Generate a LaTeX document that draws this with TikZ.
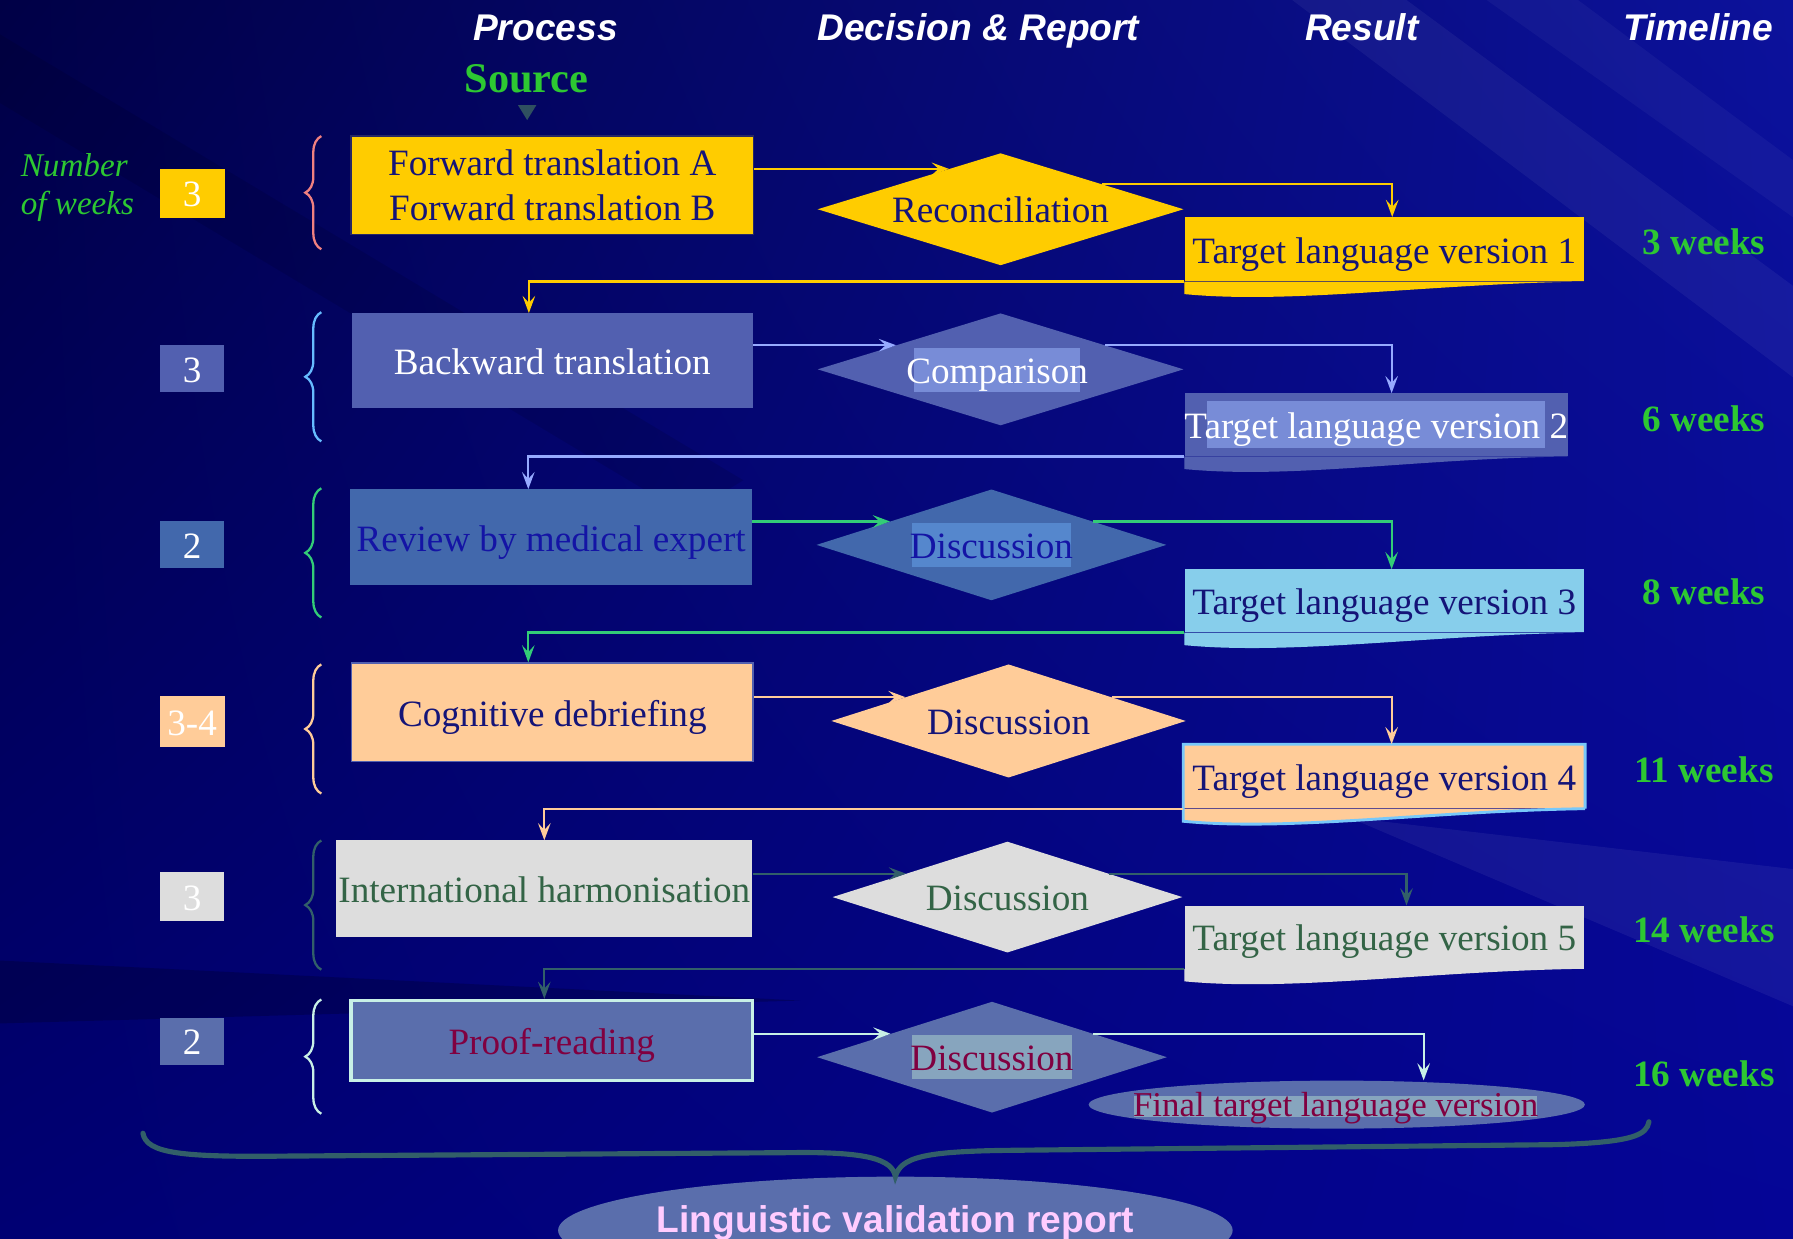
\documentclass[tikz,border=0pt]{standalone}
\usepackage{fontspec}
\setmainfont{Liberation Serif}
\newfontfamily\headfont{Liberation Sans}
\usetikzlibrary{shapes.geometric,arrows.meta,decorations.pathreplacing,calc,shadings}

\definecolor{cBgA}{RGB}{0,0,70}
\definecolor{cBgB}{RGB}{12,18,155}
\definecolor{cBgC}{RGB}{0,0,115}
\definecolor{cBgD}{RGB}{5,5,150}
\definecolor{cGold}{RGB}{255,204,0}
\definecolor{cNavy}{RGB}{20,20,120}
\definecolor{cSlate}{RGB}{82,96,176}
\definecolor{cSteel}{RGB}{66,104,172}
\definecolor{cPeach}{RGB}{255,204,153}
\definecolor{cGray}{RGB}{221,221,221}
\definecolor{cSky}{RGB}{135,206,235}
\definecolor{cSkyB}{RGB}{120,200,250}
\definecolor{cProof}{RGB}{90,110,172}
\definecolor{cFern}{RGB}{51,100,70}
\definecolor{cBlueTxt}{RGB}{20,20,165}
\definecolor{cMaroon}{RGB}{128,0,64}
\definecolor{cWeek}{RGB}{45,200,50}
\definecolor{cLav}{RGB}{150,170,255}
\definecolor{cMint}{RGB}{51,204,119}
\definecolor{cSlateDk}{RGB}{50,95,105}
\definecolor{cAqua}{RGB}{200,240,230}
\definecolor{cSalmon}{RGB}{240,128,128}
\definecolor{cBrace}{RGB}{102,187,255}
\definecolor{cHiA}{RGB}{120,140,215}
\definecolor{cHiB}{RGB}{85,135,205}
\definecolor{cHiC}{RGB}{135,165,190}
\definecolor{cPink}{RGB}{255,204,255}
\definecolor{cEdge}{RGB}{40,40,100}
\definecolor{cTri}{RGB}{47,80,96}

\newcommand\boxsize{\fontsize{32.5}{39}\selectfont}

\begin{document}
\begin{tikzpicture}
  [x=1pt,y=-1pt,
   txt/.style={inner sep=0pt,text height=24pt,text depth=0pt},
   colhead/.style={txt,text=white,font=\headfont\bfseries\itshape\boxsize},
   timetext/.style={txt,text=cWeek,font=\bfseries\boxsize},
   weekbox/.style={txt,text=white,font=\boxsize,minimum width=57,minimum height=43},
   proc/.style={rectangle,txt,font=\boxsize,minimum width=351,minimum height=84},
   choice/.style={diamond,aspect=3.3,txt,font=\boxsize,minimum width=306,minimum height=97},
   resbox/.style={rectangle,txt,font=\boxsize,minimum width=349,minimum height=55},
   hibox/.style={rectangle,txt,font=\boxsize,inner ysep=7.5pt},
   brc/.style={decorate,decoration={brace,amplitude=14pt},line width=2pt},
   arr/.style={-{Stealth[length=15pt,width=11pt,inset=6pt]},line width=2pt}]

  \useasboundingbox (0,0) rectangle (1568,1083);
  \shade[upper left=cBgA,upper right=cBgB,lower left=cBgC,lower right=cBgD] (0,0) rectangle (1568,1083);
  \fill[white,opacity=.05] (1130,0) -- (1230,0) -- (1568,250) -- (1568,330) -- cycle;
  \fill[white,opacity=.04] (1300,0) -- (1380,0) -- (1568,140) -- (1568,190) -- cycle;
  \fill[white,opacity=.06] (1180,715) -- (1568,760) -- (1568,880) -- cycle;
  \fill[black,opacity=.2] (0,840) -- (700,875) -- (0,895) -- cycle;
  \fill[black,opacity=.1] (0,30) -- (650,420) -- (600,450) -- (0,90) -- cycle;

  \node[colhead] (hproc) at (477,23) {Process};
  \node[colhead] (hdec) at (855.5,23) {Decision \& Report};
  \node[colhead] (hres) at (1191,23) {Result};
  \node[colhead] (htime) at (1485,23) {Timeline};
  \node[inner sep=0pt,text height=25pt,text depth=0pt,text=cWeek,font=\fontsize{37}{40}\selectfont\bfseries] (src) at (460.5,68) {Source};
  \fill[cTri] (453,92) -- (469,92) -- (461,105) -- cycle;
  \node[inner sep=0pt,anchor=west,align=left,text=cWeek,font=\fontsize{29}{33.5}\selectfont\itshape] (nweeks) at (18,164) {Number\\of weeks};

  \node[weekbox,fill=cGold] (w1) at (168,169) {3};
  \node[weekbox,fill=cSlate,minimum width=56,minimum height=41] (w2) at (168,322.5) {3};
  \node[weekbox,fill=cSteel,minimum width=56,minimum height=41] (w3) at (168,476.5) {2};
  \node[weekbox,fill=cPeach,minimum height=45] (w4) at (168,631) {3-4};
  \node[weekbox,fill=cGray,minimum width=56,minimum height=42] (w5) at (168,784) {3};
  \node[weekbox,fill=cProof,minimum width=56,minimum height=41] (w6) at (168,910.5) {2};

  \foreach \ya/\yb/\c in {119/218/cSalmon,273/386/cBrace,427/540/cMint,581/694/cPeach,735/848/cSlateDk,874/974/cAqua}
    \draw[brc,\c] (281,\yb) -- (281,\ya);

  \node[rectangle,fill=cGold,draw=cEdge,line width=1.5pt,minimum width=352,minimum height=86,font=\boxsize,align=center,text=cNavy] (p1) at (483,162) {Forward translation A\\Forward translation B};
  \node[proc,fill=cSlate,text=white,minimum height=83] (p2) at (483,315.5) {Backward translation};
  \node[proc,fill=cSteel,text=cBlueTxt] (p3) at (482,470) {Review by medical expert};
  \node[proc,fill=cPeach,draw=cSlate,line width=1.5pt,text=cNavy,minimum height=86] (p4) at (483,623) {Cognitive debriefing};
  \node[proc,fill=cGray,text=cFern,minimum width=364] (p5) at (476,777) {International harmonisation};
  \node[proc,fill=cProof,draw=cAqua,line width=3pt,text=cMaroon,minimum height=70] (p6) at (482.5,910) {Proof-reading};

  \node[choice,fill=cGold,text=cNavy,minimum width=320,minimum height=98] (d1) at (875,183) {Reconciliation};
  \node[choice,fill=cSlate,minimum width=320,minimum height=98] (d2) at (875,323) {};
  \node[hibox,fill=cHiA,text=white,inner xsep=-7pt] (d2t) at (872,323.5) {Comparison};
  \node[choice,fill=cSteel] (d3) at (867,476.5) {};
  \node[hibox,fill=cHiB,text=cBlueTxt,inner xsep=-2pt,inner ysep=7pt] (d3t) at (d3) {Discussion};
  \node[choice,fill=cPeach,text=cNavy,minimum width=310,minimum height=99] (d4) at (882,630.5) {Discussion};
  \node[choice,fill=cGray,text=cFern] (d5) at (881,784.5) {Discussion};
  \node[choice,fill=cProof] (d6) at (867.5,924.5) {};
  \node[hibox,fill=cHiC,text=cMaroon,inner xsep=-1pt] (d6t) at (d6) {Discussion};

  \node[resbox,fill=cGold,text=cNavy,minimum height=56] (r1) at (1210.5,218) {Target language version 1};
  \node[resbox,fill=cSlate,minimum width=335] (r2) at (1203.5,371.5) {};
  \node[hibox,fill=cHiA,text=white,inner xsep=-20pt,inner ysep=8.5pt] (r2t) at (r2) {Target language version 2};
  \node[resbox,fill=cSky,text=cNavy] (r3) at (1210.5,525.5) {Target language version 3};
  \node[resbox,fill=cPeach,text=cNavy,minimum width=351,minimum height=56] (r4) at (1210.5,679) {Target language version 4};
  \node[resbox,fill=cGray,text=cFern] (r5) at (1210.5,819.5) {Target language version 5};
  \foreach \r/\c in {r1/cGold,r2/cSlate,r3/cSky,r4/cPeach,r5/cGray}
    \fill[\c] (\r.south east) .. controls +(-135,2) and +(94,9) .. ($(\r.south west)+(0,11)$) -- (\r.south west) -- cycle;
  \draw[cSkyB,line width=2.5pt] (r4.south east) -- (r4.north east) -- (r4.north west) -- ($(r4.south west)+(0,11)$) .. controls +(94,9) and +(-135,2) .. (r4.south east);
  \node[ellipse,inner sep=0pt,fill=cProof,minimum width=434,minimum height=42] (fin) at (1169,966) {};
  \node[hibox,fill=cHiC,text=cMaroon,text height=18pt,inner ysep=0pt,inner xsep=-1pt,font=\fontsize{30.5}{36}\selectfont] (fint) at (1168,967.5) {Final target language version};

  \node[timetext] (t1) at (1490,211) {3 weeks};
  \node[timetext] (t2) at (1490,365) {6 weeks};
  \node[timetext] (t3) at (1490,517) {8 weeks};
  \node[timetext] (t4) at (1490,672) {11 weeks};
  \node[timetext] (t5) at (1490,812) {14 weeks};
  \node[timetext] (t6) at (1490,938) {16 weeks};

  \draw[arr,cGold] (p1.east |- d1.142) -- (d1.142);
  \draw[arr,cGold] (d1.14) -| ([xshift=7pt]r1.north);
  \draw[arr,cGold] (r1.south west) -| ([xshift=-20.5pt]p2.north);
  \draw[arr,cLav] (p2.east |- d2.167) -- (d2.167);
  \draw[arr,cLav] (d2.13) -| ([xshift=13.5pt]r2.north);
  \draw[arr,cLav] (r2.south west) -| ([xshift=-20pt]p3.north);
  \draw[arr,cMint] (p3.east |- d3.167) -- (d3.167);
  \draw[arr,cMint] (d3.13) -| ([xshift=6.5pt]r3.north);
  \draw[arr,cMint] (r3.south west) -| ([xshift=-21pt]p4.north);
  \draw[arr,cPeach] (p4.east |- d4.167) -- (d4.167);
  \draw[arr,cPeach] (d4.13) -| ([xshift=6.5pt]r4.north);
  \draw[arr,cPeach] (r4.south west) -| (p5.north);
  \draw[arr,cSlateDk] (p5.east |- d5.167) -- (d5.167);
  \draw[arr,cSlateDk] (d5.13) -| ([xshift=19.5pt]r5.north);
  \draw[arr,cSlateDk] (r5.south west) -| ([xshift=-6.5pt]p6.north);
  \draw[arr,cAqua] (p6.east |- d6.167) -- (d6.167);
  \draw[arr,cAqua] (d6.13) -| ([xshift=76pt]fin.north);

  \node[ellipse,fill=cProof,inner sep=0pt,minimum width=586,minimum height=94,text height=24pt,text depth=20pt,text=cPink,font=\headfont\bfseries\boxsize] (rep) at (783,1076) {Linguistic validation report};
  \draw[cSlateDk,line width=4.5pt,line cap=round] (125,991) .. controls (128,1009) and (160,1012) .. (250,1011) -- (690,1008)
    .. controls (760,1007) and (780,1014) .. (rep.north) .. controls (788,1012) and (808,1007) .. (880,1006)
    -- (1360,1001) .. controls (1430,999) and (1440,992) .. (1442,981);
\end{tikzpicture}
\end{document}
